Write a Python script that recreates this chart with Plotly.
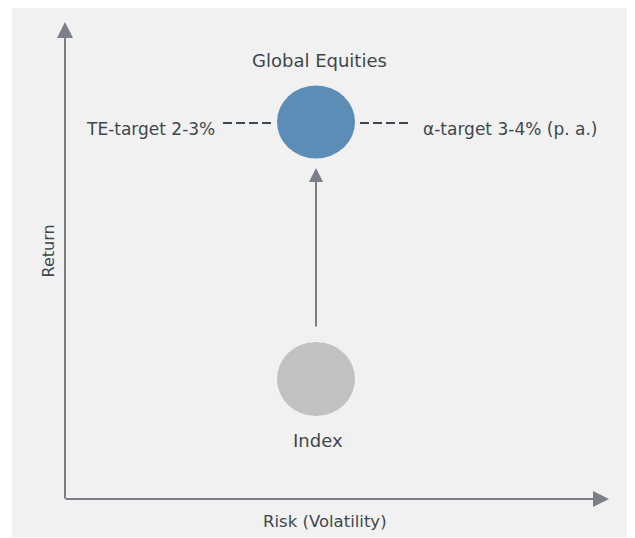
import plotly.graph_objects as go

# Conceptual positions (x = risk units, y = return units; origin at axis corner)
portfolio_names = ["Index", "Global Equities"]
portfolio_risk = [251, 251]
portfolio_return = [120, 377]
portfolio_rx = [39, 39]
portfolio_ry = [37, 36.5]
portfolio_colors = ["#bfc1c3", "#5b8db6"]

axis_end_x = 544
axis_end_y = 477

te_line_x = [158, 206]
alpha_line_x = [295, 343]
target_level = 376

move_from = 171
move_to = 331

text_color = "#3e4750"
axis_color = "#7b8088"
FONT = "DejaVu Sans"

fig = go.Figure()

# dashed target lines
for xs in (te_line_x, alpha_line_x):
    fig.add_trace(go.Scatter(
        x=xs, y=[target_level, target_level], mode="lines",
        line=dict(color=text_color, width=2, dash="9px,4px"),
        hoverinfo="skip", showlegend=False))

# circles
for name, cx, cy, rx, ry, col in zip(portfolio_names, portfolio_risk, portfolio_return,
                                     portfolio_rx, portfolio_ry, portfolio_colors):
    fig.add_shape(type="circle", xref="x", yref="y",
                  x0=cx - rx, x1=cx + rx, y0=cy - ry, y1=cy + ry,
                  fillcolor=col, line=dict(width=0), layer="above")

ann = []
# axes arrows
ann.append(dict(x=0, y=axis_end_y, ax=0, ay=-1, xref="x", yref="y", axref="x", ayref="y",
                showarrow=True, arrowhead=2, arrowsize=1.6, arrowwidth=2,
                arrowcolor=axis_color, text=""))
ann.append(dict(x=axis_end_x, y=0, ax=-1, ay=0, xref="x", yref="y", axref="x", ayref="y",
                showarrow=True, arrowhead=2, arrowsize=1.6, arrowwidth=2,
                arrowcolor=axis_color, text=""))
# movement arrow
ann.append(dict(x=portfolio_risk[0], y=move_to, ax=portfolio_risk[0], ay=move_from,
                xref="x", yref="y", axref="x", ayref="y",
                showarrow=True, arrowhead=2, arrowsize=1.4, arrowwidth=2,
                arrowcolor=axis_color, text=""))

def label(text, x, y, xanchor="center", size=17, angle=0):
    return dict(text=text, x=x, y=y, xref="x", yref="y", showarrow=False,
                xanchor=xanchor, yanchor="middle", textangle=angle,
                borderpad=0, borderwidth=0,
                font=dict(family=FONT, size=size, color=text_color))

ann.append(label("Global Equities", 254.5, 439, size=18))
ann.append(label("Index", 252.5, 59, size=18))
ann.append(label("TE-target 2-3%", 150, 370, xanchor="right", size=17))
ann.append(label("α-target 3-4% (p. a.)", 358, 370, xanchor="left", size=17))
ann.append(label("Return", -17.5, 248, size=16, angle=-90))
ann.append(label("Risk (Volatility)", 260, -22, size=16.5))

fig.update_layout(
    width=635, height=538,
    margin=dict(l=4, r=0, t=0, b=9),
    paper_bgcolor="white", plot_bgcolor="#f1f1f1",
    xaxis=dict(range=[-53, 578], visible=False, fixedrange=True),
    yaxis=dict(range=[-38, 491], visible=False, fixedrange=True),
    annotations=ann, showlegend=False,
)

fig.write_html("out.html")
